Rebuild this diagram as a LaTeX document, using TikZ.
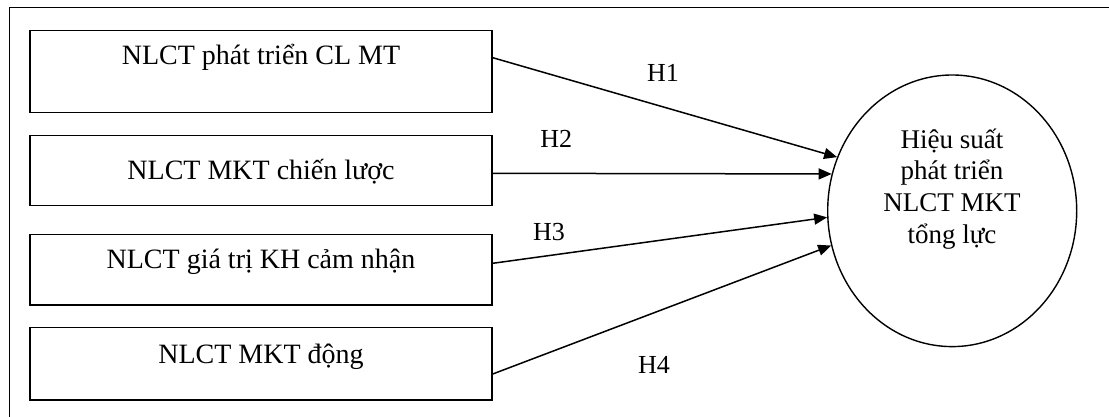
\documentclass[tikz,border=0pt]{standalone}
\usepackage{fontspec}
\setmainfont{Liberation Serif}
\usetikzlibrary{arrows.meta,shapes.geometric,calc}
\begin{document}
\begin{tikzpicture}[x=1pt,y=-1pt,
  box/.style={draw,line width=1.5pt,minimum width=462pt,inner sep=0pt},
  lbl/.style={font=\fontsize{28}{33}\selectfont,anchor=base,inner sep=0pt},
  hyp/.style={font=\fontsize{26}{31}\selectfont,inner sep=0pt},
  conn/.style={line width=1.5pt,-{Triangle[length=13pt,width=11pt]}}]
\useasboundingbox (0,0) rectangle (1109,417);
\draw[line width=1.5pt] (9.5,417) -- (9.5,7.5) -- (1109,7.5);
% boxes
\node[box,minimum height=81.6pt] (b1) at (261,71.5) {};
\node[box,minimum height=70.2pt] (b2) at (261,170.6) {};
\node[box,minimum height=70.7pt] (b3) at (261,269.65) {};
\node[box,minimum height=72.5pt] (b4) at (261,363.75) {};
\node[lbl] (t1) at (261,65) {NLCT phát triển CL MT};
\node[lbl] (t2) at (261,180) {NLCT MKT chiến lược};
\node[lbl] (t3) at (261,268) {NLCT giá trị KH cảm nhận};
\node[lbl] (t4) at (261,363) {NLCT MKT động};
% ellipse
\node[ellipse,draw,line width=1.4pt,minimum width=249pt,minimum height=271.6pt,inner sep=0pt] (e) at (952.2,210.8) {};
\node[align=center,font=\fontsize{27}{31.7}\selectfont,inner sep=0pt] (et) at (952,188.8) {Hiệu suất\\phát triển\\NLCT MKT\\tổng lực};
% connectors
\draw[conn] ($(b1.east)+(0,-13.8)$) -- (e.155.35);
\draw[conn] ($(b2.east)+(0,2.7)$) -- (e.163.1);
\draw[conn] ($(b3.east)+(0,-6.35)$) -- (e.183);
\draw[conn] ($(b4.east)+(0,10.25)$) -- (e.196.8);
% labels
\node[hyp] (h1) at (663,72.8) {H1};
\node[hyp] (h2) at (556.3,139) {H2};
\node[hyp] (h3) at (549,231.7) {H3};
\node[hyp] (h4) at (654,364.5) {H4};
\end{tikzpicture}
\end{document}
